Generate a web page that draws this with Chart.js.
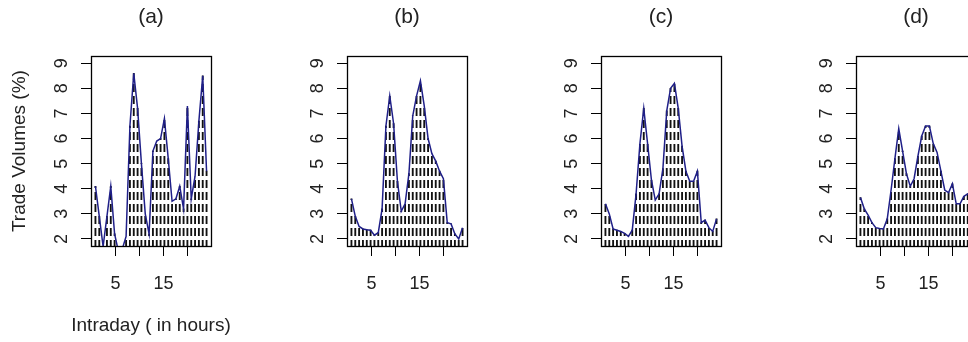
<!DOCTYPE html>
<html>
<head>
<meta charset="utf-8">
<script src="https://cdn.jsdelivr.net/npm/chart.js@4"></script>
<style>
  html, body { margin: 0; padding: 0; background: #fff; width: 968px; height: 342px; overflow: hidden; }
  .panel { position: absolute; top: 0; width: 255px; height: 342px; }
  .xtitle { position: absolute; left: 0; width: 302px; top: 314px; line-height: 22px; text-align: center;
            font: 19px "Liberation Sans", Arial, sans-serif; color: #222; white-space: nowrap; }
</style>
</head>
<body>
<div class="panel" style="left:0px"><canvas id="c0" width="255" height="342"></canvas></div>
<div class="panel" style="left:256px"><canvas id="c1" width="255" height="342"></canvas></div>
<div class="panel" style="left:510px"><canvas id="c2" width="255" height="342"></canvas></div>
<div class="panel" style="left:765px"><canvas id="c3" width="255" height="342"></canvas></div>
<div class="xtitle">Intraday ( in hours)</div>
<script>
// intraday sample times (hours) shared by all four panels
const hours = [0.8, 1.6, 2.4, 3.2, 4.0, 4.8, 5.6, 6.4, 7.2, 8.0,
               8.8, 9.6, 10.4, 11.2, 12.0, 12.8, 13.6, 14.4, 15.2, 16.0,
               16.8, 17.6, 18.4, 19.2, 20.0, 20.8, 21.6, 22.4, 23.2, 24.0];

const panelTitles = ['(a)', '(b)', '(c)', '(d)'];

// trade volumes (%) per panel
const volumesA = [4.1, 2.9, 1.7, 2.9, 4.1, 2.2, 1.5, 1.6, 2.1, 6.5,
                  8.6, 7.2, 5.0, 3.0, 2.2, 5.5, 5.9, 6.0, 6.8, 5.2,
                  3.5, 3.6, 4.1, 3.2, 7.3, 3.6, 4.5, 6.7, 8.5, 4.7];
const volumesB = [3.6, 2.9, 2.5, 2.4, 2.37, 2.35, 2.15, 2.25, 3.2, 6.5,
                  7.7, 6.6, 4.3, 3.1, 3.4, 4.6, 6.9, 7.7, 8.3, 7.3,
                  6.0, 5.4, 5.1, 4.7, 4.4, 2.65, 2.6, 2.2, 2.0, 2.45];
const volumesC = [3.4, 3.0, 2.4, 2.35, 2.3, 2.22, 2.1, 2.35, 3.8, 5.8,
                  7.2, 5.8, 4.35, 3.55, 3.8, 4.8, 7.1, 8.0, 8.2, 7.2,
                  5.7, 4.7, 4.3, 4.3, 4.7, 2.65, 2.75, 2.45, 2.3, 2.8];
const volumesD = [3.65, 3.2, 2.95, 2.65, 2.45, 2.42, 2.4, 2.8, 3.95, 5.2,
                  6.4, 5.5, 4.6, 4.1, 4.4, 5.3, 6.1, 6.5, 6.5, 5.8,
                  5.45, 4.7, 3.95, 3.85, 4.2, 3.4, 3.4, 3.7, 3.8, 3.9];

const yTicks = [2, 3, 4, 5, 6, 7, 8, 9];
const xTicks = [5, 10, 15, 20];
const xTickLabels = ['5', '', '15', ''];

const allVolumes = [volumesA, volumesB, volumesC, volumesD];

const FONT = 'Liberation Sans, Arial, sans-serif';
const TEXT = '#222';

// dashed fill for the 1px "type h" spikes
function dashPattern() {
  const c = document.createElement('canvas');
  c.width = 1; c.height = 12;
  const g = c.getContext('2d');
  g.fillStyle = '#111';
  g.fillRect(0, 0, 1, 8);
  return g.createPattern(c, 'repeat');
}

// R-style box around the plot region
const boxPlugin = {
  id: 'box',
  afterDatasetsDraw(chart) {
    const { ctx, chartArea: a } = chart;
    ctx.save();
    ctx.strokeStyle = '#000';
    ctx.lineWidth = 1.3;
    ctx.strokeRect(Math.round(a.left) + 0.5, Math.round(a.top) + 0.5,
                   Math.round(a.right - a.left), Math.round(a.bottom - a.top));
    ctx.restore();
  }
};

allVolumes.forEach((vals, i) => {
  const points = hours.map((h, k) => ({ x: h, y: vals[k] }));
  const first = i === 0;

  new Chart(document.getElementById('c' + i), {
    type: 'bar',
    data: {
      datasets: [
        {
          type: 'line',
          data: points,
          borderColor: '#1f1f88',
          borderWidth: 1.5,
          pointRadius: 0,
          tension: 0,
          order: 0
        },
        {
          type: 'bar',
          data: points,
          backgroundColor: dashPattern(),
          borderWidth: 0,
          barThickness: 1.2,
          grouped: false,
          order: 1
        }
      ]
    },
    options: {
      responsive: false,
      animation: false,
      events: [],
      layout: { padding: { left: 0, right: 44, top: 0, bottom: 0 } },
      plugins: {
        legend: { display: false },
        tooltip: { enabled: false },
        title: {
          display: true,
          text: panelTitles[i],
          fullSize: false,
          color: TEXT,
          font: { family: FONT, size: 21, weight: 'normal' },
          padding: { top: 5, bottom: 26 }
        }
      },
      scales: {
        x: {
          type: 'linear',
          min: -0.128,
          max: 24.928,
          offset: false,
          afterBuildTicks: (s) => { s.ticks = xTicks.map((v) => ({ value: v })); },
          afterFit: (s) => { s.height = 96; },
          grid: { offset: false, drawOnChartArea: false, drawTicks: true, tickLength: 10, tickColor: '#000', tickWidth: 1 },
          border: { display: false },
          ticks: {
            autoSkip: false,
            maxRotation: 0,
            padding: 17,
            color: TEXT,
            font: { family: FONT, size: 18 },
            callback: (v) => xTickLabels[xTicks.indexOf(v)]
          }
        },
        y: {
          type: 'linear',
          min: 1.72,
          max: 9.28,
          afterBuildTicks: (s) => { s.ticks = yTicks.map((v) => ({ value: v })); },
          afterFit: (s) => { s.width = 91; },
          grid: { drawOnChartArea: false, drawTicks: true, tickLength: 10, tickColor: '#000', tickWidth: 1 },
          border: { display: false },
          ticks: {
            minRotation: 90,
            maxRotation: 90,
            crossAlign: 'center',
            padding: 14,
            color: TEXT,
            font: { family: FONT, size: 18 },
            callback: (v) => String(v)
          },
          title: {
            display: first,
            text: 'Trade Volumes (%)',
            color: TEXT,
            font: { family: FONT, size: 19 },
            padding: { top: 8, bottom: 0 }
          }
        }
      }
    },
    plugins: [boxPlugin]
  });
});
</script>
</body>
</html>
